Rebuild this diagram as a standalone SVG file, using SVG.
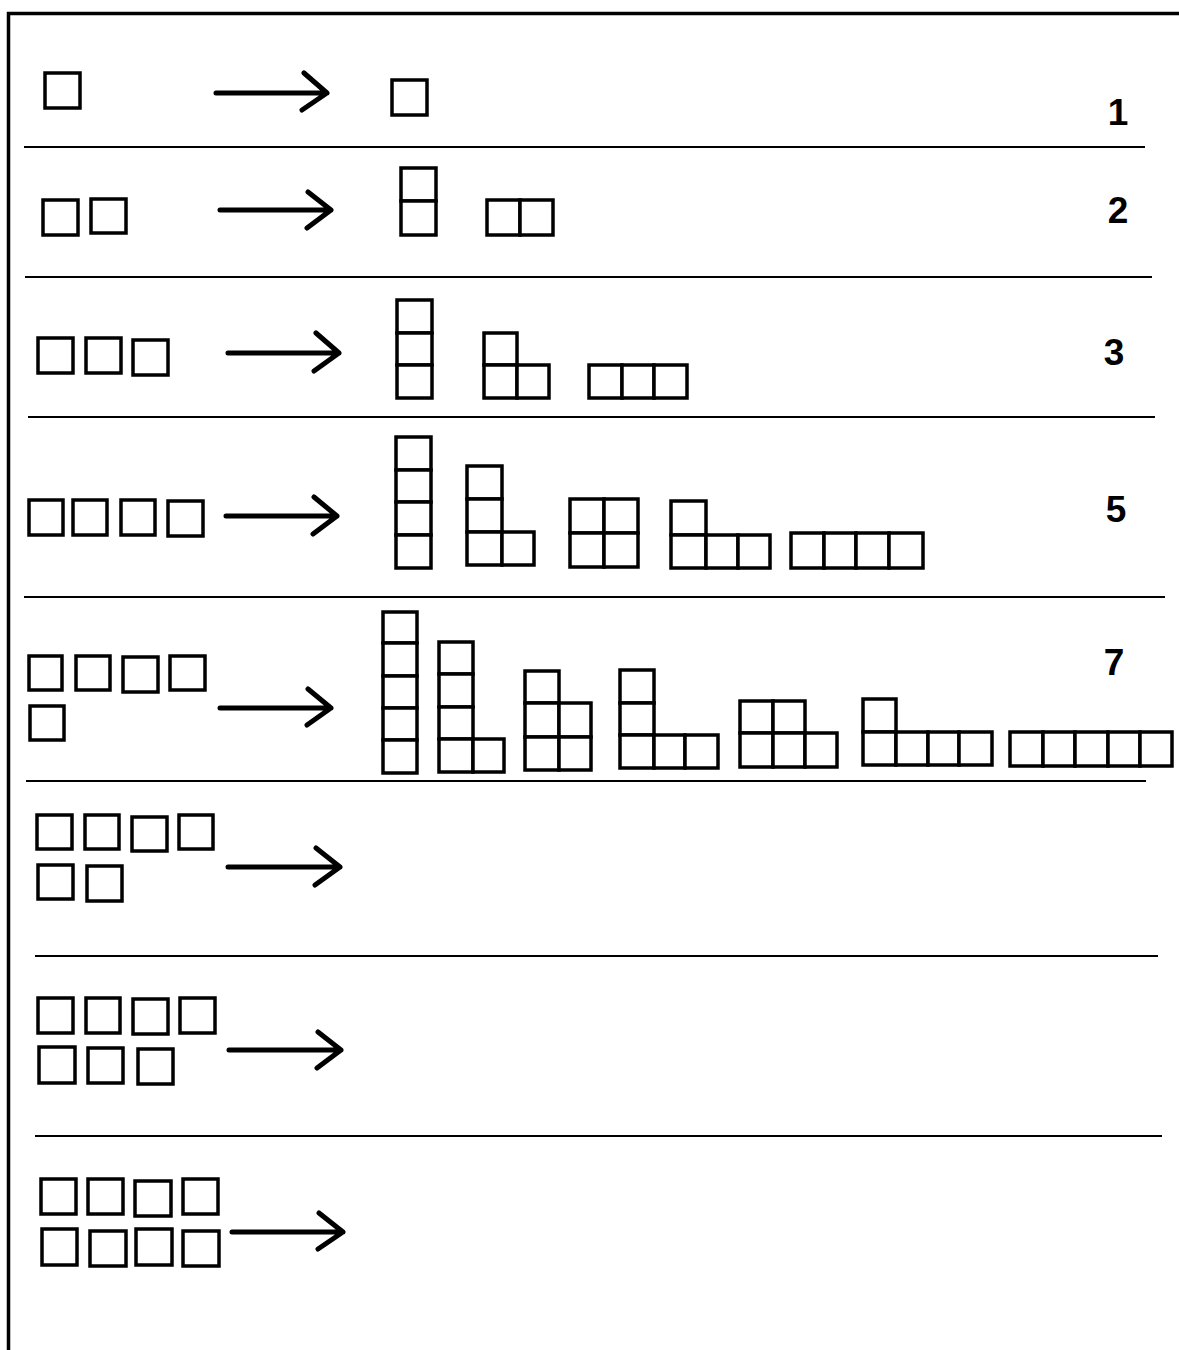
<svg xmlns="http://www.w3.org/2000/svg" width="1179" height="1350" viewBox="0 0 1179 1350">
<style>
.c{fill:#fff;stroke:#000;stroke-width:3.5}
.sep{stroke:#000;stroke-width:2;fill:none}
.arr{stroke:#000;stroke-width:5;fill:none;stroke-linecap:round;stroke-linejoin:round}
.num{font-family:"Liberation Sans",Arial,sans-serif;font-weight:bold;font-size:37px;fill:#000;text-anchor:middle}
</style>
<rect width="1179" height="1350" fill="#fff"/>
<path d="M8.5 1350 V13.5 H1179" fill="none" stroke="#000" stroke-width="3.5"/>
<g id="separators">
<line class="sep" x1="24" y1="147" x2="1145" y2="147"/>
<line class="sep" x1="25" y1="277" x2="1152" y2="277"/>
<line class="sep" x1="28" y1="417" x2="1155" y2="417"/>
<line class="sep" x1="24" y1="597" x2="1165" y2="597"/>
<line class="sep" x1="26" y1="781" x2="1146" y2="781"/>
<line class="sep" x1="35" y1="956" x2="1158" y2="956"/>
<line class="sep" x1="35" y1="1136" x2="1162" y2="1136"/>
</g>
<g id="connectors">
<path class="arr" d="M216 93 H327 M304 73 L327 93 L302 110"/>
<path class="arr" d="M220 210 H331 M308 192 L331 210 L307 228"/>
<path class="arr" d="M228 353 H339 M316 333 L339 353 L314 371"/>
<path class="arr" d="M226 516 H337 M314 497 L337 516 L313 534"/>
<path class="arr" d="M220 708 H331 M308 689 L331 708 L307 725"/>
<path class="arr" d="M228 867 H340 M316 848 L340 867 L315 885"/>
<path class="arr" d="M229 1050 H341 M318 1032 L341 1050 L317 1068"/>
<path class="arr" d="M232 1232 H343 M319 1213 L343 1232 L318 1249"/>
</g>
<g id="row1">
<rect class="c" x="45" y="73" width="35" height="35"/>
<rect class="c" x="392" y="80" width="35" height="35"/>
<text class="num" x="1118" y="125">1</text>
</g>
<g id="row2">
<rect class="c" x="43" y="200" width="35" height="35"/>
<rect class="c" x="91" y="199" width="35" height="34"/>
<rect class="c" x="401" y="168" width="35" height="33"/>
<rect class="c" x="401" y="201" width="35" height="34"/>
<rect class="c" x="487" y="200" width="33" height="35"/>
<rect class="c" x="520" y="200" width="33" height="35"/>
<text class="num" x="1118" y="223">2</text>
</g>
<g id="row3">
<rect class="c" x="38" y="338" width="35" height="35"/>
<rect class="c" x="86" y="338" width="35" height="35"/>
<rect class="c" x="133" y="340" width="35" height="35"/>
<rect class="c" x="397" y="300" width="35" height="33"/>
<rect class="c" x="397" y="333" width="35" height="32"/>
<rect class="c" x="397" y="365" width="35" height="33"/>
<rect class="c" x="484" y="333" width="33" height="32"/>
<rect class="c" x="484" y="365" width="33" height="33"/>
<rect class="c" x="517" y="365" width="32" height="33"/>
<rect class="c" x="589" y="365" width="33" height="33"/>
<rect class="c" x="622" y="365" width="32" height="33"/>
<rect class="c" x="654" y="365" width="33" height="33"/>
<text class="num" x="1114" y="365">3</text>
</g>
<g id="row4">
<rect class="c" x="29" y="500" width="34" height="35"/>
<rect class="c" x="73" y="500" width="34" height="35"/>
<rect class="c" x="121" y="500" width="34" height="35"/>
<rect class="c" x="168" y="501" width="35" height="35"/>
<rect class="c" x="396" y="437" width="35" height="33"/>
<rect class="c" x="396" y="470" width="35" height="32"/>
<rect class="c" x="396" y="502" width="35" height="33"/>
<rect class="c" x="396" y="535" width="35" height="33"/>
<rect class="c" x="467" y="466" width="35" height="33"/>
<rect class="c" x="467" y="499" width="35" height="33"/>
<rect class="c" x="467" y="532" width="35" height="33"/>
<rect class="c" x="502" y="532" width="32" height="33"/>
<rect class="c" x="570" y="499" width="34" height="34"/>
<rect class="c" x="604" y="499" width="34" height="34"/>
<rect class="c" x="570" y="533" width="34" height="34"/>
<rect class="c" x="604" y="533" width="34" height="34"/>
<rect class="c" x="671" y="501" width="35" height="34"/>
<rect class="c" x="671" y="535" width="35" height="33"/>
<rect class="c" x="706" y="535" width="32" height="33"/>
<rect class="c" x="738" y="535" width="32" height="33"/>
<rect class="c" x="791" y="533" width="33" height="35"/>
<rect class="c" x="824" y="533" width="32" height="35"/>
<rect class="c" x="856" y="533" width="33" height="35"/>
<rect class="c" x="889" y="533" width="34" height="35"/>
<text class="num" x="1116" y="522">5</text>
</g>
<g id="row5">
<rect class="c" x="29" y="656" width="33" height="34"/>
<rect class="c" x="76" y="656" width="34" height="34"/>
<rect class="c" x="123" y="657" width="35" height="35"/>
<rect class="c" x="170" y="656" width="35" height="34"/>
<rect class="c" x="30" y="706" width="34" height="34"/>
<rect class="c" x="383" y="612" width="34" height="31"/>
<rect class="c" x="383" y="643" width="34" height="33"/>
<rect class="c" x="383" y="676" width="34" height="32"/>
<rect class="c" x="383" y="708" width="34" height="32"/>
<rect class="c" x="383" y="740" width="34" height="33"/>
<rect class="c" x="439" y="642" width="34" height="32"/>
<rect class="c" x="439" y="674" width="34" height="33"/>
<rect class="c" x="439" y="707" width="34" height="32"/>
<rect class="c" x="439" y="739" width="34" height="33"/>
<rect class="c" x="473" y="739" width="31" height="33"/>
<rect class="c" x="525" y="671" width="34" height="32"/>
<rect class="c" x="525" y="703" width="34" height="34"/>
<rect class="c" x="559" y="703" width="32" height="34"/>
<rect class="c" x="525" y="737" width="34" height="33"/>
<rect class="c" x="559" y="737" width="32" height="33"/>
<rect class="c" x="620" y="670" width="34" height="33"/>
<rect class="c" x="620" y="703" width="34" height="32"/>
<rect class="c" x="620" y="735" width="34" height="33"/>
<rect class="c" x="654" y="735" width="31" height="33"/>
<rect class="c" x="685" y="735" width="33" height="33"/>
<rect class="c" x="740" y="701" width="33" height="32"/>
<rect class="c" x="773" y="701" width="32" height="32"/>
<rect class="c" x="740" y="733" width="33" height="34"/>
<rect class="c" x="773" y="733" width="32" height="34"/>
<rect class="c" x="805" y="733" width="32" height="34"/>
<rect class="c" x="863" y="699" width="33" height="33"/>
<rect class="c" x="863" y="732" width="33" height="33"/>
<rect class="c" x="896" y="732" width="32" height="33"/>
<rect class="c" x="928" y="732" width="31" height="33"/>
<rect class="c" x="959" y="732" width="33" height="33"/>
<rect class="c" x="1010" y="732" width="33" height="34"/>
<rect class="c" x="1043" y="732" width="32" height="34"/>
<rect class="c" x="1075" y="732" width="33" height="34"/>
<rect class="c" x="1108" y="732" width="32" height="34"/>
<rect class="c" x="1140" y="732" width="32" height="34"/>
<text class="num" x="1114" y="675">7</text>
</g>
<g id="row6">
<rect class="c" x="37" y="815" width="35" height="34"/>
<rect class="c" x="85" y="815" width="34" height="34"/>
<rect class="c" x="132" y="817" width="35" height="34"/>
<rect class="c" x="179" y="815" width="34" height="34"/>
<rect class="c" x="38" y="865" width="35" height="34"/>
<rect class="c" x="87" y="866" width="35" height="35"/>
</g>
<g id="row7">
<rect class="c" x="38" y="998" width="35" height="35"/>
<rect class="c" x="86" y="998" width="34" height="35"/>
<rect class="c" x="133" y="999" width="35" height="35"/>
<rect class="c" x="180" y="998" width="35" height="35"/>
<rect class="c" x="39" y="1047" width="36" height="36"/>
<rect class="c" x="88" y="1048" width="35" height="35"/>
<rect class="c" x="138" y="1049" width="35" height="35"/>
</g>
<g id="row8">
<rect class="c" x="41" y="1179" width="35" height="35"/>
<rect class="c" x="88" y="1179" width="35" height="35"/>
<rect class="c" x="135" y="1181" width="36" height="35"/>
<rect class="c" x="183" y="1179" width="35" height="35"/>
<rect class="c" x="42" y="1229" width="35" height="36"/>
<rect class="c" x="90" y="1231" width="36" height="35"/>
<rect class="c" x="136" y="1229" width="36" height="36"/>
<rect class="c" x="183" y="1231" width="36" height="35"/>
</g>
</svg>
